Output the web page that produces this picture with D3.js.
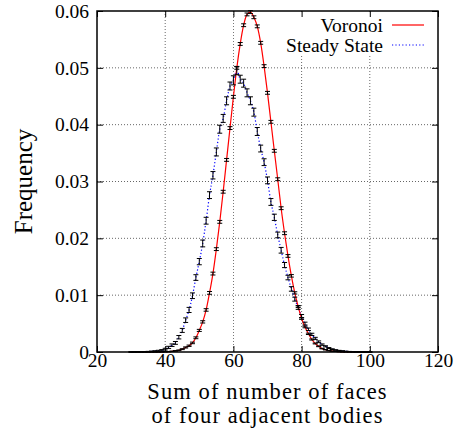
<!DOCTYPE html>
<html>
<head>
<meta charset="utf-8">
<script src="https://cdn.jsdelivr.net/npm/d3@7"></script>
<style>
  body { margin: 0; background: #fff; }
  svg text { font-family: 'Liberation Serif'; }
</style>
</head>
<body>
<div id="chart"></div>
<script>
// sum of faces of four adjacent bodies, 30 .. 100
var sums = d3.range(30, 101);

var voronoiFreq = [
  0, 0, 0, 0, 0, 0, 0, 0, 0.00001, 0.00002,
  0.00004, 0.00007, 0.00012, 0.0002, 0.0003, 0.0005, 0.0008, 0.0011, 0.0016, 0.0025,
  0.0038, 0.0053, 0.0074, 0.0104, 0.0138, 0.0181, 0.0229, 0.0282, 0.0338, 0.0394,
  0.0449, 0.0500, 0.0542, 0.0575, 0.0594, 0.0598, 0.0589, 0.0573, 0.0544, 0.0503,
  0.0456, 0.0405, 0.0354, 0.0304, 0.0253, 0.0209, 0.0169, 0.0134, 0.0104, 0.0080,
  0.0059, 0.0044, 0.0032, 0.0022, 0.0015, 0.0010, 0.0006, 0.0004, 0.00025, 0.00015,
  0.0001, 0.00006, 0.00003, 0.00002, 0.00001, 0, 0, 0, 0, 0, 0
];
var voronoiErr = [
  0.00001, 0.00001, 0.00001, 0.00001, 0.00001, 0.00001, 0.00001, 0.00001, 0.00001, 0.00001,
  0.00002, 0.00003, 0.00004, 0.00005, 0.00006, 0.00008, 0.0001, 0.00012, 0.00014, 0.00016,
  0.00018, 0.0002, 0.00022, 0.00024, 0.00025, 0.00025, 0.00025, 0.00025, 0.00025, 0.00025,
  0.00025, 0.00025, 0.00025, 0.00025, 0.00025, 0.00025, 0.00025, 0.00025, 0.00025, 0.00025,
  0.00025, 0.00025, 0.00025, 0.00025, 0.00025, 0.00025, 0.00024, 0.00022, 0.0002, 0.00018,
  0.00016, 0.00014, 0.00012, 0.0001, 0.00008, 0.00006, 0.00005, 0.00004, 0.00003, 0.00002,
  0.00001, 0.00001, 0.00001, 0.00001, 0.00001, 0.00001, 0.00001, 0.00001, 0.00001, 0.00001, 0.00001
];

var steadyFreq = [
  0, 0.00001, 0.00002, 0.00003, 0.00004, 0.00006, 0.0001, 0.00014, 0.0002, 0.0003,
  0.0005, 0.0008, 0.0012, 0.0016, 0.0026, 0.0038, 0.0056, 0.0074, 0.0099, 0.0131,
  0.0159, 0.0191, 0.0231, 0.0276, 0.0311, 0.0352, 0.0392, 0.0411, 0.0442, 0.0468,
  0.0478, 0.0495, 0.0480, 0.0473, 0.0456, 0.0442, 0.0422, 0.0388, 0.0358, 0.0334,
  0.0302, 0.0264, 0.0237, 0.0206, 0.0179, 0.0153, 0.0131, 0.0111, 0.0093, 0.0078,
  0.0063, 0.0050, 0.0040, 0.0031, 0.0024, 0.0018, 0.0013, 0.0010, 0.0007, 0.0005,
  0.00035, 0.00025, 0.00018, 0.00012, 0.00008, 0.00005, 0.00003, 0.00002, 0.00001, 0, 0
];
var steadyErr = [
  0.00002, 0.00002, 0.00003, 0.00003, 0.00004, 0.00005, 0.00006, 0.00008, 0.0001, 0.00012,
  0.00015, 0.0002, 0.00022, 0.00025, 0.0003, 0.00035, 0.0004, 0.00045, 0.0005, 0.0005,
  0.00055, 0.0006, 0.0006, 0.0006, 0.00065, 0.0007, 0.0007, 0.0007, 0.0007, 0.0007,
  0.0008, 0.0007, 0.0007, 0.0007, 0.0007, 0.0007, 0.0007, 0.0007, 0.0006, 0.0006,
  0.0006, 0.0006, 0.00055, 0.0005, 0.0005, 0.00045, 0.0004, 0.0004, 0.00035, 0.0003,
  0.0003, 0.00025, 0.00022, 0.0002, 0.00018, 0.00015, 0.00012, 0.0001, 0.00008, 0.00006,
  0.00005, 0.00004, 0.00003, 0.00003, 0.00002, 0.00002, 0.00001, 0.00001, 0.00001, 0.00001, 0.00001
];

var xTicks = [20, 40, 60, 80, 100, 120];
var yTicks = [0, 0.01, 0.02, 0.03, 0.04, 0.05, 0.06];

var FONT = "Liberation Serif";

var _width = 461, _height = 429,
  margin = {top: 11, right: 23, bottom: 77, left: 97};

var innerW = _width - margin.left - margin.right,
  innerH = _height - margin.top - margin.bottom;

var svg = d3.select("#chart").append("svg")
  .attr("width", _width)
  .attr("height", _height)
  .attr("font-family", FONT);

var g = svg.append("g")
  .attr("transform", "translate(" + margin.left + "," + margin.top + ")");

var x = d3.scaleLinear().domain([20, 120]).range([0, innerW]);
var y = d3.scaleLinear().domain([0, 0.06]).range([innerH, 0]);

// grid
g.selectAll("line.gx").data(xTicks.slice(1, -1)).enter().append("line")
  .attr("class", "gx")
  .attr("x1", function (d) { return x(d); }).attr("x2", function (d) { return x(d); })
  .attr("y1", 0).attr("y2", innerH);
g.selectAll("line.gy").data(yTicks.slice(1, -1)).enter().append("line")
  .attr("class", "gy")
  .attr("y1", function (d) { return y(d); }).attr("y2", function (d) { return y(d); })
  .attr("x1", 0).attr("x2", innerW);
g.selectAll("line.gx, line.gy")
  .attr("stroke", "#000")
  .attr("stroke-width", 0.8)
  .attr("stroke-dasharray", "1,2")
  .attr("opacity", 0.75);

// legend background hides the grid
g.append("rect")
  .attr("x", 173).attr("y", 3)
  .attr("width", 166).attr("height", 42)
  .attr("fill", "#fff");

function series(vals, errs) {
  return sums.map(function (s, i) { return {x: s, v: vals[i], e: errs[i]}; });
}
var voronoi = series(voronoiFreq, voronoiErr);
var steady = series(steadyFreq, steadyErr);

var line = d3.line()
  .x(function (d) { return x(d.x); })
  .y(function (d) { return y(d.v); })
  .curve(d3.curveMonotoneX);

g.append("path").datum(steady)
  .attr("d", line)
  .attr("fill", "none")
  .attr("stroke", "#0000ff")
  .attr("stroke-width", 1.2)
  .attr("stroke-dasharray", "1.2,2.2");

g.append("path").datum(voronoi)
  .attr("d", line)
  .attr("fill", "none")
  .attr("stroke", "#ff0000")
  .attr("stroke-width", 1.2);

function errorBars(data, cls) {
  var bars = g.selectAll("g." + cls).data(data).enter().append("g")
    .attr("class", cls)
    .attr("stroke", "#000")
    .attr("stroke-width", 1);
  bars.append("line")
    .attr("x1", function (d) { return x(d.x); }).attr("x2", function (d) { return x(d.x); })
    .attr("y1", function (d) { return y(d.v - d.e); })
    .attr("y2", function (d) { return y(d.v + d.e); });
  bars.append("line")
    .attr("x1", function (d) { return x(d.x) - 2.5; }).attr("x2", function (d) { return x(d.x) + 2.5; })
    .attr("y1", function (d) { return y(d.v - d.e); }).attr("y2", function (d) { return y(d.v - d.e); });
  bars.append("line")
    .attr("x1", function (d) { return x(d.x) - 2.5; }).attr("x2", function (d) { return x(d.x) + 2.5; })
    .attr("y1", function (d) { return y(d.v + d.e); }).attr("y2", function (d) { return y(d.v + d.e); });
}
errorBars(voronoi, "ebv");
errorBars(steady, "ebs");

// axes, ticks point inward on all four sides
var yFmt = function (d) { return d === 0 ? "0" : d3.format(".2f")(d); };

g.append("g")
  .attr("transform", "translate(0," + innerH + ")")
  .call(d3.axisBottom(x).tickValues(xTicks).tickSizeInner(-6).tickSizeOuter(0).tickPadding(1));
g.append("g")
  .call(d3.axisTop(x).tickValues(xTicks).tickSizeInner(-6).tickSizeOuter(0).tickFormat(""));
g.append("g")
  .call(d3.axisLeft(y).tickValues(yTicks).tickSizeInner(-6).tickSizeOuter(0).tickPadding(8).tickFormat(yFmt));
g.append("g")
  .attr("transform", "translate(" + innerW + ",0)")
  .call(d3.axisRight(y).tickValues(yTicks).tickSizeInner(-6).tickSizeOuter(0).tickFormat(""));

g.selectAll(".domain").remove();
g.selectAll(".tick line").attr("stroke", "#000").attr("stroke-width", 1);
g.selectAll("g").attr("font-family", FONT).attr("font-size", null);
g.selectAll(".tick text")
  .attr("font-family", FONT)
  .attr("font-size", 19.5)
  .attr("fill", "#000");

g.append("rect")
  .attr("width", innerW).attr("height", innerH)
  .attr("fill", "none")
  .attr("stroke", "#000")
  .attr("stroke-width", 1.5);

// legend
var legend = [
  {name: "Voronoi", color: "#ff0000", dash: null, y: 14},
  {name: "Steady State", color: "#0000ff", dash: "1.2,2.2", y: 34}
];
var lg = g.selectAll("g.legend").data(legend).enter().append("g")
  .attr("class", "legend");
lg.append("text")
  .attr("x", 286).attr("y", function (d) { return d.y; })
  .attr("dy", "0.35em")
  .attr("text-anchor", "end")
  .attr("font-family", FONT)
  .attr("font-size", 19.5)
  .text(function (d) { return d.name; });
lg.append("line")
  .attr("x1", 295).attr("x2", 327)
  .attr("y1", function (d) { return d.y; }).attr("y2", function (d) { return d.y; })
  .attr("stroke", function (d) { return d.color; })
  .attr("stroke-width", 1.2)
  .attr("stroke-dasharray", function (d) { return d.dash; });

// axis titles
var xTitle = ["Sum of number of faces", "of four adjacent bodies"];
svg.selectAll("text.xtitle").data(xTitle).enter().append("text")
  .attr("class", "xtitle")
  .attr("x", margin.left + innerW / 2)
  .attr("y", function (d, i) { return 399 + i * 24; })
  .attr("text-anchor", "middle")
  .attr("font-family", FONT)
  .attr("font-size", 22.5)
  .attr("letter-spacing", 1.1)
  .text(function (d) { return d; });

svg.append("text")
  .attr("transform", "translate(32," + (margin.top + innerH / 2) + ") rotate(-90)")
  .attr("text-anchor", "middle")
  .attr("font-family", FONT)
  .attr("font-size", 25)
  .text("Frequency");
</script>
</body>
</html>
